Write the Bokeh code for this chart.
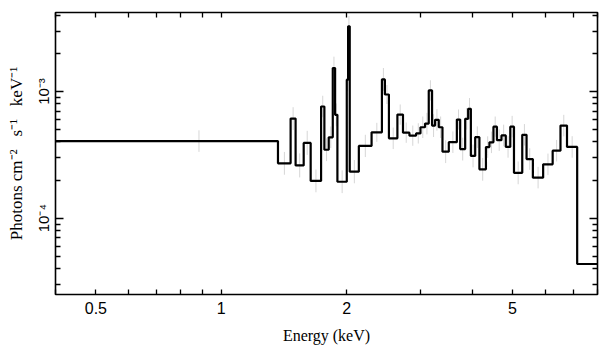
import numpy as np
from bokeh.plotting import figure
from bokeh.models import FixedTicker, LogAxis, CustomJSTickFormatter, Range1d
from bokeh.embed import file_html
from bokeh.resources import INLINE

# Bin edges (keV) and unfolded model flux (photons cm^-2 s^-1 keV^-1)
edges = [0.4, 1.368, 1.467, 1.508, 1.577, 1.639, 1.736, 1.768, 1.811, 1.852,
         1.876, 1.900, 2.001, 2.016, 2.034, 2.139, 2.295, 2.430, 2.470, 2.526,
         2.647, 2.730, 2.829, 2.935, 3.007, 3.084, 3.148, 3.206, 3.260, 3.327,
         3.396, 3.517, 3.677, 3.745, 3.850, 3.914, 3.973, 4.069, 4.165, 4.318,
         4.402, 4.501, 4.589, 4.705, 4.819, 4.940, 5.042, 5.278, 5.405, 5.597,
         5.924, 6.244, 6.520, 6.759, 7.150, 8.0]
flux_e4 = [4.06, 2.71, 6.11, 2.61, 3.93, 1.97, 7.61, 3.47, 4.35, 15.3,
           6.54, 1.94, 12.4, 32.7, 2.33, 3.72, 4.76, 12.45, 9.47, 4.27,
           6.57, 4.73, 4.48, 4.67, 5.22, 5.58, 10.2, 5.38, 5.97, 5.22,
           3.35, 3.98, 6.00, 3.51, 6.08, 7.30, 3.10, 4.36, 2.43, 3.64,
           3.97, 5.28, 4.13, 4.50, 3.65, 5.28, 2.28, 4.55, 2.93, 2.09,
           2.66, 3.41, 5.38, 3.65, 0.435]
# half-length of the grey error bars (dex)
err_dex = [0.085, 0.090, 0.090, 0.095, 0.095, 0.090, 0.085, 0.090, 0.085, 0.090,
           0.090, 0.090, 0.090, 0.080, 0.092, 0.088, 0.075, 0.090, 0.075, 0.085,
           0.080, 0.080, 0.080, 0.080, 0.085, 0.085, 0.080, 0.090, 0.085, 0.085,
           0.090, 0.085, 0.080, 0.090, 0.085, 0.085, 0.090, 0.085, 0.090, 0.085,
           0.085, 0.080, 0.085, 0.085, 0.085, 0.085, 0.090, 0.085, 0.085, 0.085,
           0.085, 0.085, 0.085, 0.085, 0.0]

x_major = [0.5, 1, 2, 5]
x_minor = [0.4, 0.6, 0.7, 0.8, 0.9, 3, 4, 6, 7, 8]
y_major = [1e-4, 1e-3]
y_minor = [3e-5, 4e-5, 5e-5, 6e-5, 7e-5, 8e-5, 9e-5,
           2e-4, 3e-4, 4e-4, 5e-4, 6e-4, 7e-4, 8e-4, 9e-4,
           2e-3, 3e-3, 4e-3]

e = np.array(edges)
f = np.array(flux_e4) * 1e-4
err = np.array(err_dex)
centers = 0.5 * (e[:-1] + e[1:])
lo = f * 10 ** (-err)
hi = f * 10 ** (err)

p = figure(width=601, height=349, x_axis_type="log", y_axis_type="log",
           x_range=Range1d(0.4, 8.0), y_range=Range1d(2.5e-5, 4.2e-3),
           output_backend="svg", toolbar_location=None,
           min_border_left=55, min_border_right=4, min_border_top=12,
           min_border_bottom=55)
p.background_fill_color = "white"
p.border_fill_color = "white"
p.xgrid.visible = False
p.ygrid.visible = False
p.outline_line_color = "black"
p.outline_line_width = 1.6
p.outline_line_alpha = 1.0

p.segment(x0=centers, y0=lo, x1=centers, y1=hi, line_color="#d6d6d6", line_width=1)
p.step(x=list(e), y=list(f) + [f[-1]], mode="after", line_color="black", line_width=2.2)

fmt_x = CustomJSTickFormatter(code="return tick.toString();")
fmt_y = CustomJSTickFormatter(code="""
const sup = {"-":"\u207b","0":"\u2070","1":"\u00b9","2":"\u00b2","3":"\u00b3","4":"\u2074","5":"\u2075","6":"\u2076","7":"\u2077","8":"\u2078","9":"\u2079"};
const ex = Math.round(Math.log10(tick));
return "10" + String(ex).split("").map(c => sup[c]).join("");
""")
blank = CustomJSTickFormatter(code="return '';")

def style_x(ax, labels=True):
    ax.ticker = FixedTicker(ticks=x_major, minor_ticks=x_minor)
    ax.axis_line_color = None
    ax.major_tick_in = 5
    ax.major_tick_out = 0
    ax.minor_tick_in = 5
    ax.minor_tick_out = 0
    ax.major_tick_line_color = "black"
    ax.minor_tick_line_color = "black"
    ax.major_tick_line_width = 1.3
    ax.minor_tick_line_width = 1.3
    if labels:
        ax.formatter = fmt_x
        ax.major_label_text_font = "Liberation Sans"
        ax.major_label_text_font_size = "16px"
        ax.major_label_text_color = "black"
        ax.major_label_standoff = 7
    else:
        ax.formatter = blank
        ax.major_label_standoff = 0
        ax.major_label_text_font_size = "0px"

def style_y(ax, labels=True):
    ax.ticker = FixedTicker(ticks=y_major, minor_ticks=y_minor)
    ax.axis_line_color = None
    ax.major_tick_in = 8
    ax.major_tick_out = 0
    ax.minor_tick_in = 5
    ax.minor_tick_out = 0
    ax.major_tick_line_color = "black"
    ax.minor_tick_line_color = "black"
    ax.major_tick_line_width = 1.3
    ax.minor_tick_line_width = 1.3
    if labels:
        ax.formatter = fmt_y
        ax.major_label_text_font = "Liberation Sans"
        ax.major_label_text_font_size = "15px"
        ax.major_label_text_color = "black"
        ax.major_label_orientation = "vertical"
        ax.major_label_standoff = 3
    else:
        ax.formatter = blank
        ax.major_label_standoff = 0
        ax.major_label_text_font_size = "0px"

xa = p.xaxis[0]
style_x(xa)
xa.axis_label = "Energy (keV)"
xa.axis_label_text_font = "Liberation Serif"
xa.axis_label_text_font_size = "16px"
xa.axis_label_text_font_style = "normal"
xa.axis_label_text_color = "black"
xa.axis_label_standoff = 10

ya = p.yaxis[0]
style_y(ya)
ya.axis_label = "Photons cm\u207b\u00b2\u00a0\u00a0 s\u207b\u00b9\u00a0\u00a0 keV\u207b\u00b9"
ya.axis_label_text_font = "Liberation Serif"
ya.axis_label_text_font_size = "17px"
ya.axis_label_text_font_style = "normal"
ya.axis_label_text_color = "black"
ya.axis_label_standoff = 7

top = LogAxis()
style_x(top, labels=False)
p.add_layout(top, "above")
right = LogAxis()
style_y(right, labels=False)
p.add_layout(right, "right")

open("out.html", "w").write(file_html(p, INLINE))
